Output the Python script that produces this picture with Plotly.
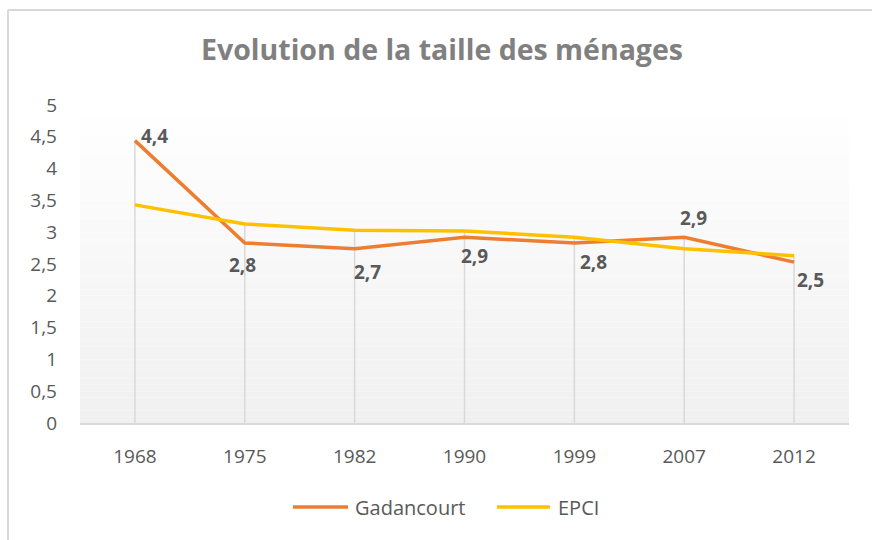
import plotly.graph_objects as go

years = ["1968", "1975", "1982", "1990", "1999", "2007", "2012"]
gadancourt = [4.44, 2.83, 2.74, 2.92, 2.83, 2.92, 2.53]
epci = [3.43, 3.13, 3.03, 3.02, 2.92, 2.74, 2.63]
gad_labels = ["4,4", "2,8", "2,7", "2,9", "2,8", "2,9", "2,5"]
y_tickvals = [0, 0.5, 1, 1.5, 2, 2.5, 3, 3.5, 4, 4.5, 5]
y_ticktext = ["0", "0,5", "1", "1,5", "2", "2,5", "3", "3,5", "4", "4,5", "5"]
series_names = ["Gadancourt", "EPCI"]
series_colors = ["#ED7D31", "#FFC000"]

# label offsets in px (style)
label_shift = [(20, 5), (-2, -22), (13, -23), (10, -19), (19, -19), (9, 19), (16, -18)]

FONT = "Open Sans"
TXT = "#595959"

L, T, PW, PH = 80, 105, 769, 318
def px_x(p):
    return (p - L) / PW
def px_y(p):
    return (T + PH - p) / PH

fig = go.Figure()

# drop lines from the higher of the two series down to the axis
dx, dy = [], []
for yr, g, e in zip(years, gadancourt, epci):
    dx += [yr, yr, None]
    dy += [0, max(g, e), None]
fig.add_trace(go.Scatter(x=dx, y=dy, mode="lines", line=dict(color="#d9d9d9", width=1.5),
                         showlegend=False, hoverinfo="skip"))

for name, vals, col in zip(series_names, [gadancourt, epci], series_colors):
    fig.add_trace(go.Scatter(x=years, y=vals, mode="lines", name=name, showlegend=False,
                             line=dict(color=col, width=3.5)))

# category axis: annotation x uses category index
for i, (v, lab, (sx, sy)) in enumerate(zip(gadancourt, gad_labels, label_shift)):
    fig.add_annotation(x=i, y=v, xref="x", yref="y", text="<b>" + lab + "</b>", showarrow=False,
                       xshift=sx, yshift=sy, font=dict(family=FONT, size=19, color=TXT))

# gradient plot background
shapes = []
n = 50
for i in range(n):
    y0 = 5 * i / n
    y1 = 5 * (i + 1) / n
    t = (i + 0.5) / n
    c = int(round(240 + (255 - 240) * t))
    shapes.append(dict(type="rect", xref="paper", yref="y", x0=0, x1=1, y0=y0, y1=y1,
                       fillcolor=f"rgb({c},{c},{c})", line=dict(width=0), layer="below"))

# outer chart border (top and left)
shapes.append(dict(type="line", xref="paper", yref="paper", x0=px_x(8), x1=px_x(880),
                   y0=px_y(10), y1=px_y(10), line=dict(color="#d9d9d9", width=2)))
shapes.append(dict(type="line", xref="paper", yref="paper", x0=px_x(8), x1=px_x(8),
                   y0=px_y(10), y1=px_y(545), line=dict(color="#d9d9d9", width=2)))

# legend drawn manually (long line keys like the reference)
leg_line = [(293, 348), (497, 550)]
leg_text = [353, 556]
for name, col, (a, b), tx in zip(series_names, series_colors, leg_line, leg_text):
    shapes.append(dict(type="line", xref="paper", yref="paper", x0=px_x(a), x1=px_x(b),
                       y0=px_y(507), y1=px_y(507), line=dict(color=col, width=3.5)))
    fig.add_annotation(x=px_x(tx), y=px_y(507), xref="paper", yref="paper", text=name,
                       showarrow=False, xanchor="left", yanchor="middle",
                       font=dict(family=FONT, size=20, color=TXT))

fig.update_layout(
    width=872, height=540,
    margin=dict(l=L, r=872 - L - PW, t=T, b=540 - T - PH),
    paper_bgcolor="white", plot_bgcolor="white",
    shapes=shapes,
    title=dict(text="<b>Evolution de la taille des ménages</b>", x=px_x(442), xanchor="center",
               y=1 - 50 / 540, yanchor="middle", xref="paper",
               font=dict(family=FONT, size=28.5, color="#808080")),
    xaxis=dict(type="category", range=[-0.5, 6.5], showgrid=False, showline=True,
               linecolor="#d9d9d9", linewidth=2, ticks="", ticklabelstandoff=15,
               tickfont=dict(family=FONT, size=19, color=TXT), zeroline=False),
    yaxis=dict(range=[0, 5], tickvals=y_tickvals, ticktext=y_ticktext, showgrid=False,
               showline=False, zeroline=False, ticks="", ticklabelstandoff=22,
               tickfont=dict(family=FONT, size=19, color=TXT)),
    showlegend=False,
    hovermode=False,
)

fig.write_html("out.html", config={"displayModeBar": False},
               post_script="document.body.style.margin='0';")
